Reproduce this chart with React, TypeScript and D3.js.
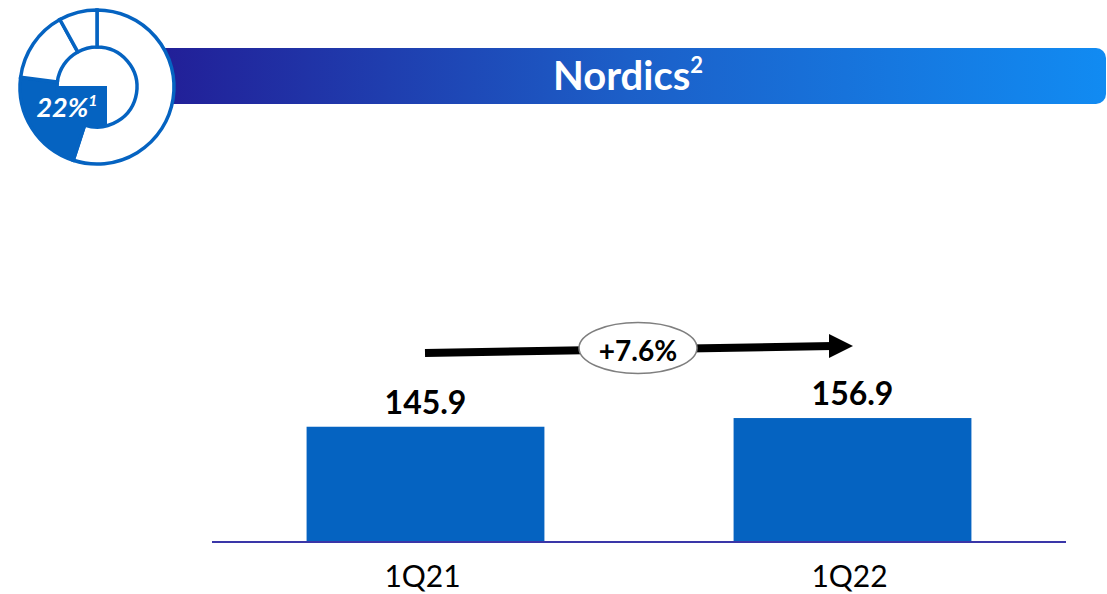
import React from "react";
import * as d3 from "d3";

const categories = ["1Q21", "1Q22"];
const values = [145.9, 156.9];
const valueLabels = ["145.9", "156.9"];
const growthLabel = "+7.6%";
const title = "Nordics";
const titleSup = "2";
const shareLabel = "22%";
const shareSup = "1";
const donutShares = [55, 22, 15, 8];
const highlightIndex = 1;

const W = 1107;
const H = 594;
const FONT = "Lato, 'Open Sans', sans-serif";
const BLUE = "#0563C1";

export default function App() {
  const x = d3
    .scaleBand<string>()
    .domain(categories)
    .range([212, 1066])
    .paddingInner(0.443)
    .paddingOuter(0.2215);
  const y = d3.scaleLinear().domain([0, 200]).range([542, 384]);

  const pie = d3.pie<number>().sort(null).value((d) => d);
  const arcs = pie(donutShares);
  const arcGen = d3.arc<d3.PieArcDatum<number>>().innerRadius(40).outerRadius(77);
  const cx = 97;
  const cy = 87;

  const arrowStart = { x: 425, y: 353 };
  const arrowEnd = { x: 833, y: 346 };

  return (
    <svg
      width={W}
      height={H}
      style={{ position: "absolute", left: 0, top: 0, background: "#fff" }}
      fontFamily={FONT}
    >
      <defs>
        <linearGradient id="titleGrad" x1="0" x2="1" y1="0" y2="0">
          <stop offset="0%" stopColor="#221D96" />
          <stop offset="50%" stopColor="#1C5FC8" />
          <stop offset="100%" stopColor="#118BF2" />
        </linearGradient>
      </defs>
      <rect x={0} y={0} width={W} height={H} fill="#fff" />

      {/* title bar */}
      <rect x={150} y={48} width={956} height={56} rx={10} ry={10} fill="url(#titleGrad)" />
      <text x={628} y={90} textAnchor="middle" fill="#fff" fontWeight="bold" fontSize={40}>
        {title}
        <tspan fontSize={22} dy={-17}>{titleSup}</tspan>
      </text>

      {/* donut */}
      <g transform={`translate(${cx},${cy})`}>
        <circle r={40} fill="#fff" />
        {arcs.map((a, i) => (
          <path
            key={i}
            d={arcGen(a) || ""}
            fill={i === highlightIndex ? BLUE : "#fff"}
            stroke={BLUE}
            strokeWidth={3.5}
            strokeLinejoin="miter"
          />
        ))}
        <rect x={57 - cx} y={86 - cy} width={50} height={40} fill={BLUE} />
        <text
          x={67 - cx}
          y={117 - cy}
          textAnchor="middle"
          fill="#fff"
          fontWeight="bold"
          fontStyle="italic"
          fontSize={27}
        >
          {shareLabel}
          <tspan fontSize={16} dy={-11}>{shareSup}</tspan>
        </text>
      </g>

      {/* bars */}
      {categories.map((c, i) => (
        <rect
          key={c}
          x={x(c)}
          y={y(values[i])}
          width={x.bandwidth()}
          height={y(0) - y(values[i])}
          fill={BLUE}
        />
      ))}
      {categories.map((c, i) => (
        <text
          key={c + "v"}
          x={(x(c) || 0) + x.bandwidth() / 2}
          y={y(values[i]) - 13}
          textAnchor="middle"
          fontWeight="bold"
          fontSize={32}
          fill="#000"
        >
          {valueLabels[i]}
        </text>
      ))}

      {/* axis */}
      <line x1={212} x2={1066} y1={542} y2={542} stroke="#3A36A8" strokeWidth={2} />
      {categories.map((c) => (
        <text
          key={c + "l"}
          x={(x(c) || 0) + x.bandwidth() / 2 - 3}
          y={587}
          textAnchor="middle"
          fontSize={30}
          fill="#000"
        >
          {c}
        </text>
      ))}

      {/* growth arrow */}
      <line
        x1={arrowStart.x}
        y1={arrowStart.y}
        x2={arrowEnd.x}
        y2={arrowEnd.y}
        stroke="#000"
        strokeWidth={8}
      />
      <path
        d={`M${arrowEnd.x - 4},${arrowEnd.y - 12} L${arrowEnd.x + 20},${arrowEnd.y} L${arrowEnd.x - 4},${arrowEnd.y + 12} Z`}
        fill="#000"
      />
      <ellipse cx={638} cy={348} rx={59} ry={25.5} fill="#fff" stroke="#7F7F7F" strokeWidth={1.5} />
      <text x={638} y={361} textAnchor="middle" fontWeight="bold" fontSize={28} fill="#000">
        {growthLabel}
      </text>
    </svg>
  );
}
